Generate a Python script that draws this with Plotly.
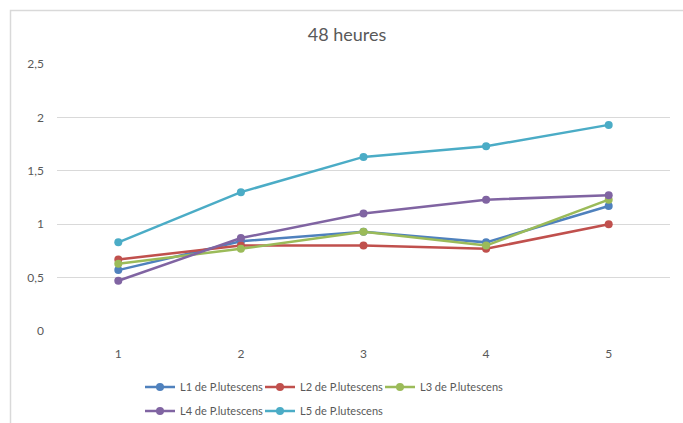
import plotly.graph_objects as go

# Days of observation (category axis)
jours = ["1", "2", "3", "4", "5"]

# Series values
l1 = [0.57, 0.84, 0.93, 0.83, 1.17]
l2 = [0.67, 0.80, 0.80, 0.77, 1.00]
l3 = [0.63, 0.77, 0.93, 0.80, 1.23]
l4 = [0.47, 0.87, 1.10, 1.23, 1.27]
l5 = [0.83, 1.30, 1.63, 1.73, 1.93]

noms = ["L1 de P.lutescens", "L2 de P.lutescens", "L3 de P.lutescens",
        "L4 de P.lutescens", "L5 de P.lutescens"]
series = [l1, l2, l3, l4, l5]
couleurs = ["#4F81BD", "#C0504D", "#9BBB59", "#8064A2", "#4BACC6"]

W, H = 683, 423
L, R, T, B = 57, 13, 64, 92
pw, ph = W - L - R, H - T - B

# Legend entry anchors in pixels (two rows of entries under the plot)
leg_px = [(140, 387), (260, 387), (380, 387), (140, 411), (260, 411)]

fig = go.Figure()
for i, (nom, ys, c) in enumerate(zip(noms, series, couleurs)):
    fig.add_trace(go.Scatter(
        x=jours, y=ys, name=nom, mode="lines+markers",
        line=dict(color=c, width=2.5),
        marker=dict(color=c, size=8),
        legend="legend" if i == 0 else f"legend{i + 1}",
        showlegend=True,
    ))

font_txt = dict(family="Lato, Open Sans, sans-serif", size=12, color="#595959")

# Chart-area border (light grey frame)
bx0 = (10.5 - L) / pw
by1 = (H - B - 10.5) / ph
fig.add_shape(type="rect", xref="paper", yref="paper",
              x0=bx0, x1=(W + 20 - L) / pw, y0=-(B + 20) / ph, y1=by1,
              line=dict(color="#D9D9D9", width=1.5), fillcolor="rgba(0,0,0,0)",
              layer="below")

legend_common = dict(orientation="h", font=dict(family="Lato, Open Sans, sans-serif",
                                                 size=11, color="#595959"),
                     bgcolor="rgba(0,0,0,0)", xanchor="left", yanchor="middle",
                     itemwidth=30)
legends = {}
for i, (px, py) in enumerate(leg_px):
    key = "legend" if i == 0 else f"legend{i + 1}"
    legends[key] = dict(**legend_common, x=(px - L) / pw, y=-(py - (H - B)) / ph)

fig.update_layout(
    width=W, height=H,
    showlegend=True,
    margin=dict(l=L, r=R, t=T, b=B, autoexpand=False),
    paper_bgcolor="white", plot_bgcolor="white",
    separators=", ",
    title=dict(text="48 heures", x=347 / W, xanchor="center",
               y=1 - 35 / H, yanchor="middle",
               font=dict(family="Lato, Open Sans, sans-serif", size=18, color="#595959")),
    font=font_txt,
    xaxis=dict(type="category", range=[-0.5, 4.5], showgrid=False, showline=False,
               zeroline=False, ticks="", tickfont=font_txt, ticklabelstandoff=14),
    yaxis=dict(range=[0, 2.5], dtick=0.5, showgrid=True, gridcolor="#D9D9D9",
               gridwidth=1, zeroline=False, showline=False, ticks="",
               tickfont=font_txt, ticklabelstandoff=12),
    **legends,
)

fig.write_html("out.html")
